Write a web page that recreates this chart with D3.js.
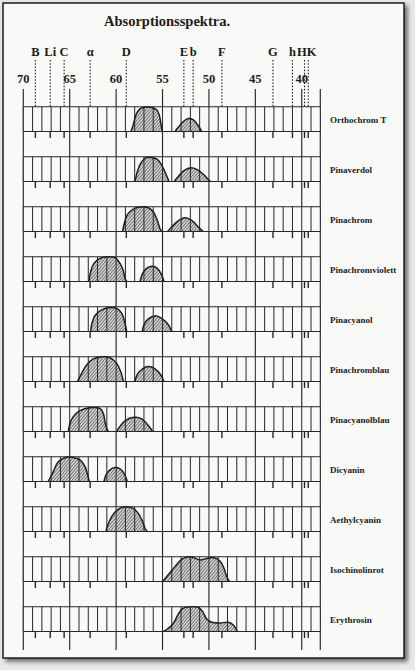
<!DOCTYPE html>
<html><head><meta charset="utf-8">
<script src="https://cdn.jsdelivr.net/npm/d3@7"></script>
<style>html,body{margin:0;padding:0;background:#e8e8e8;} svg{display:block}</style>
</head><body><svg id="c" width="415" height="670"></svg>
<script>
// ---------- data ----------
const title = "Absorptionsspektra.";
const scaleTicks = [70, 65, 60, 55, 50, 45, 40];
const lineNames = ["B", "Li", "C", "α", "D", "E", "b", "F", "G", "h", "H", "K"];
const lineWaves = [68.7, 67.1, 65.6, 62.8, 58.9, 52.7, 51.7, 48.6, 43.1, 41.0, 39.7, 39.3];
const dyes = ["Orthochrom T", "Pinaverdol", "Pinachrom", "Pinachromviolett", "Pinacyanol",
  "Pinachromblau", "Pinacyanolblau", "Dicyanin", "Aethylcyanin", "Isochinolinrot", "Erythrosin"];

// each dye: list of absorption bands, each band = [wavelength (x10 nm), relative absorption]
const orthochromT = [
  [[58.40,0],[58.15,0.27],[57.86,0.67],[57.43,0.91],[56.89,0.99],[56.17,0.97],[55.63,0.88],[55.34,0.65],[55.16,0.27],[55.02,0]],
  [[53.66,0],[53.30,0.17],[52.76,0.40],[52.22,0.52],[51.68,0.47],[51.14,0.23],[50.78,0]]
];
const pinaverdol = [
  [[57.97,0],[57.72,0.38],[57.36,0.73],[56.78,0.96],[56.17,0.97],[55.56,0.89],[55.09,0.66],[54.66,0.32],[54.30,0]],
  [[53.76,0],[53.30,0.20],[52.76,0.42],[51.97,0.55],[51.32,0.49],[50.60,0.29],[50.06,0.08],[49.81,0]]
];
const pinachrom = [
  [[59.30,0],[59.12,0.32],[58.79,0.68],[58.15,0.90],[57.25,1.0],[56.53,0.96],[55.99,0.79],[55.56,0.45],[55.27,0.11],[55.09,0]],
  [[54.45,0],[54.02,0.18],[53.48,0.38],[52.58,0.55],[51.86,0.45],[51.14,0.18],[50.60,0]]
];
const pinachromviolett = [
  [[62.92,0],[62.74,0.40],[62.39,0.73],[61.74,0.93],[60.95,1.0],[60.12,0.96],[59.58,0.73],[59.22,0.43],[59.04,0.13],[58.86,0]],
  [[57.43,0],[57.14,0.33],[56.71,0.53],[56.10,0.61],[55.56,0.53],[55.09,0.27],[54.84,0]]
];
const pinacyanol = [
  [[62.74,0],[62.64,0.27],[62.28,0.64],[61.56,0.87],[60.66,0.97],[59.94,0.93],[59.40,0.73],[59.04,0.33],[58.86,0]],
  [[57.18,0],[57.00,0.27],[56.53,0.51],[55.81,0.63],[55.09,0.53],[54.38,0.27],[54.02,0]]
];
const pinachromblau = [
  [[64.18,0],[63.71,0.33],[63.18,0.67],[62.46,0.91],[61.56,1.0],[60.66,0.96],[59.94,0.73],[59.51,0.40],[59.22,0]],
  [[57.97,0],[57.72,0.29],[57.14,0.51],[56.53,0.60],[55.81,0.51],[55.20,0.27],[54.84,0]]
];
const pinacyanolblau = [
  [[65.15,0],[64.97,0.33],[64.61,0.60],[63.89,0.84],[62.82,0.96],[61.74,0.93],[61.38,0.73],[61.20,0.40],[61.02,0.13],[60.84,0]],
  [[59.94,0],[59.58,0.20],[59.04,0.43],[58.07,0.57],[57.25,0.51],[56.53,0.24],[56.06,0]]
];
const dicyanin = [
  [[67.31,0],[66.77,0.40],[66.23,0.80],[65.51,0.96],[64.61,0.97],[63.89,0.87],[63.35,0.60],[63.07,0.27],[62.89,0]],
  [[61.31,0],[61.09,0.27],[60.66,0.47],[60.12,0.56],[59.58,0.51],[59.15,0.33],[58.79,0]]
];
const aethylcyanin = [
  [[61.09,0],[60.95,0.20],[60.48,0.60],[59.87,0.87],[59.04,1.0],[58.15,0.93],[57.61,0.73],[57.14,0.40],[56.89,0.13],[56.64,0]]
];
const isochinolinrot = [
  [[54.99,0],[54.38,0.27],[53.66,0.60],[52.94,0.89],[52.22,1.0],[51.68,0.97],[50.96,0.87],[50.24,0.93],[49.53,0.97],[48.81,0.83],[48.38,0.53],[48.09,0.20],[47.80,0]]
];
const erythrosin = [
  [[54.91,0],[54.37,0.13],[53.76,0.37],[53.30,0.70],[52.82,0.93],[52.04,1.0],[51.14,0.97],[50.67,0.80],[50.24,0.50],[49.70,0.37],[48.80,0.34],[47.91,0.37],[47.37,0.26],[47.08,0.10],[46.94,0]]
];
const spectra = [orthochromT, pinaverdol, pinachrom, pinachromviolett, pinacyanol,
  pinachromblau, pinacyanolblau, dicyanin, aethylcyanin, isochinolinrot, erythrosin];

// ---------- drawing ----------
const ink = "#262626";
const paper = "#f9f9f7";
const svg = d3.select("#c");
const defs = svg.append("defs");

const sh = defs.append("filter").attr("id", "shadow").attr("x", "-5%").attr("y", "-5%").attr("width", "115%").attr("height", "115%");
sh.append("feGaussianBlur").attr("in", "SourceAlpha").attr("stdDeviation", 2.2).attr("result", "b");
sh.append("feOffset").attr("dx", 3).attr("dy", 3).attr("result", "o");
sh.append("feComponentTransfer").attr("in", "o").attr("result", "o2")
  .append("feFuncA").attr("type", "linear").attr("slope", 0.55);
const m = sh.append("feMerge");
m.append("feMergeNode").attr("in", "o2");
m.append("feMergeNode").attr("in", "SourceGraphic");

const pat = defs.append("pattern").attr("id", "hatch").attr("patternUnits", "userSpaceOnUse")
  .attr("width", 2.3).attr("height", 2.3).attr("patternTransform", "rotate(40)");
pat.append("rect").attr("width", 2.3).attr("height", 2.3).attr("fill", "#e2e2e2");
pat.append("line").attr("x1", 0.6).attr("y1", 0).attr("x2", 0.6).attr("y2", 2.3)
  .attr("stroke", "#4a4a4a").attr("stroke-width", 0.8);

// paper
svg.append("rect").attr("x", 3).attr("y", 3).attr("width", 401).attr("height", 655)
  .attr("fill", paper).attr("stroke", "#111").attr("stroke-width", 1.4).attr("filter", "url(#shadow)");

const x = d3.scaleLinear().domain([70, 38]).range([23.3, 320.3]);
const rowTop = d3.scalePoint().domain(dyes).range([106.7, 606.7]);
const bandH = 24.8;
const gridTicks = x.ticks(32);

// title
svg.append("text").attr("x", 167).attr("y", 26).attr("text-anchor", "middle")
  .attr("font-family", "Liberation Serif, serif").attr("font-weight", "bold").attr("font-size", 14.5)
  .attr("fill", "#1c1c1c").text(title);

// Fraunhofer labels & dotted lines
const lg = svg.append("g");
lineNames.forEach((n, i) => {
  const xx = x(lineWaves[i]);
  let anchor = "middle", tx = xx;
  if (n === "H") { anchor = "end"; tx = (x(39.7) + x(39.3)) / 2 + 0.3; }
  if (n === "K") { anchor = "start"; tx = (x(39.7) + x(39.3)) / 2 + 0.3; }
  lg.append("text").attr("x", tx).attr("y", 56).attr("text-anchor", anchor)
    .attr("font-family", "Liberation Serif, serif").attr("font-weight", "bold").attr("font-size", 12.5)
    .attr("fill", "#1c1c1c").text(n);
  lg.append("line").attr("x1", xx).attr("x2", xx).attr("y1", 60).attr("y2", 106.7)
    .attr("stroke", ink).attr("stroke-width", 1.1).attr("stroke-dasharray", "1.6,1.6");
});

// scale numbers + long lines
scaleTicks.forEach(v => {
  svg.append("text").attr("x", x(v)).attr("y", 83).attr("text-anchor", "middle")
    .attr("font-family", "Liberation Serif, serif").attr("font-weight", "bold").attr("font-size", 12.5)
    .attr("fill", "#1c1c1c").text(v);
});
[...scaleTicks, 38].forEach(v => {
  svg.append("line").attr("x1", x(v)).attr("x2", x(v)).attr("y1", 89).attr("y2", 650)
    .attr("stroke", ink).attr("stroke-width", 1.15);
});

// rows
dyes.forEach((name, i) => {
  const top = rowTop(name), bot = top + bandH;
  const g = svg.append("g");
  const hy = d3.scaleLinear().domain([0, 1]).range([bot, top]);
  const cid = "clip" + i;
  defs.append("clipPath").attr("id", cid).append("rect")
    .attr("x", x(70)).attr("y", top - 1).attr("width", x(38) - x(70)).attr("height", bandH + 1);
  g.append("rect").attr("x", x(70)).attr("y", top).attr("width", x(38) - x(70)).attr("height", bandH)
    .attr("fill", paper);
  const curve = d3.curveCatmullRom.alpha(0.5);
  const area = d3.area().x(d => x(d[0])).y0(bot).y1(d => hy(d[1])).curve(curve);
  const line = d3.line().x(d => x(d[0])).y(d => hy(d[1])).curve(curve);
  spectra[i].forEach(b => {
    g.append("path").attr("d", area(b)).attr("fill", "url(#hatch)").attr("clip-path", `url(#${cid})`);
  });
  gridTicks.forEach(v => {
    g.append("line").attr("x1", x(v)).attr("x2", x(v)).attr("y1", top).attr("y2", bot)
      .attr("stroke", ink).attr("stroke-width", 1);
  });
  spectra[i].forEach(b => {
    g.append("path").attr("d", line(b)).attr("fill", "none").attr("stroke", "#1e1e1e")
      .attr("stroke-width", 1.5).attr("stroke-linejoin", "round").attr("clip-path", `url(#${cid})`);
  });
  [top, bot].forEach(yy => g.append("line").attr("x1", x(70)).attr("x2", x(38))
    .attr("y1", yy).attr("y2", yy).attr("stroke", ink).attr("stroke-width", 1.1));
  lineWaves.forEach(w => {
    g.append("line").attr("x1", x(w)).attr("x2", x(w)).attr("y1", bot).attr("y2", bot + 6.5)
      .attr("stroke", ink).attr("stroke-width", 1.4);
  });
  g.append("text").attr("x", 330).attr("y", top + bandH / 2 + 3.5)
    .attr("font-family", "Liberation Serif, serif").attr("font-weight", "bold").attr("font-size", 9)
    .attr("fill", "#1c1c1c").text(name);
});
</script></body></html>
